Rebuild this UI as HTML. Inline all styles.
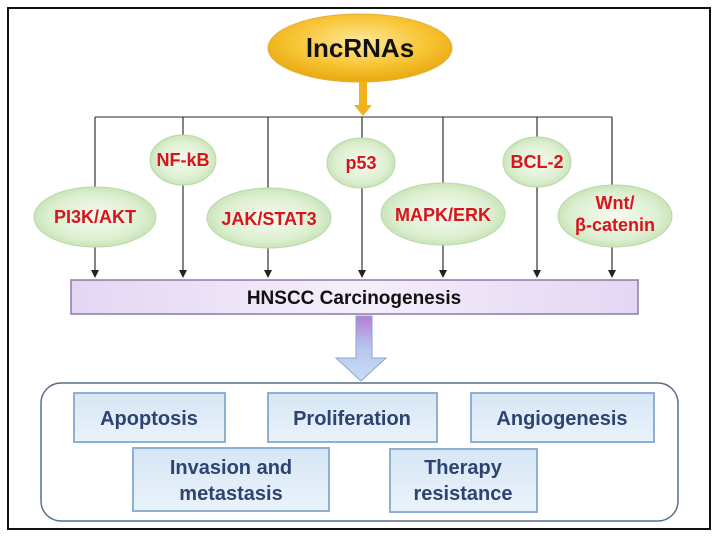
<!DOCTYPE html>
<html><head><meta charset="utf-8"><style>
html,body{margin:0;padding:0;background:#fff;}
svg{display:block;}
.r{font-family:"Liberation Sans Narrow","Liberation Sans",sans-serif;font-weight:bold;fill:#d8141c;font-size:18px;text-anchor:middle;}
.b{font-family:"Liberation Sans",sans-serif;font-weight:bold;fill:#2e4470;font-size:20px;text-anchor:middle;}
</style></head><body>
<svg width="716" height="544" viewBox="0 0 716 544" xmlns="http://www.w3.org/2000/svg">
<defs>
<radialGradient id="y" cx="50%" cy="40%" r="60%"><stop offset="0" stop-color="#fde89a"/><stop offset="0.6" stop-color="#f8c534"/><stop offset="1" stop-color="#e8a810"/></radialGradient>
<radialGradient id="g" cx="50%" cy="50%" r="55%"><stop offset="0" stop-color="#f6fbf0"/><stop offset="0.7" stop-color="#dcefd0"/><stop offset="1" stop-color="#c2e0b0"/></radialGradient>
<linearGradient id="pb" x1="0" y1="0" x2="1" y2="0"><stop offset="0" stop-color="#e3d6f3"/><stop offset="0.5" stop-color="#f5effb"/><stop offset="1" stop-color="#e3d6f3"/></linearGradient>
<linearGradient id="ar" x1="0" y1="0" x2="0" y2="1"><stop offset="0" stop-color="#b67ed6"/><stop offset="0.5" stop-color="#b8c8ee"/><stop offset="1" stop-color="#c8dcf4"/></linearGradient>
<linearGradient id="bx" x1="0" y1="0" x2="0" y2="1"><stop offset="0" stop-color="#d6e6f5"/><stop offset="1" stop-color="#eaf3fb"/></linearGradient>
<marker id="a" markerWidth="8" markerHeight="8" refX="4" refY="7" orient="auto" markerUnits="userSpaceOnUse"><path d="M0,0 L8,0 L4,7 Z" fill="#222" transform="rotate(-90 4 4)"/></marker>
</defs>
<rect x="8" y="8" width="702" height="521" fill="#fff" stroke="#111" stroke-width="2"/>
<ellipse cx="360" cy="48" rx="92" ry="34" fill="url(#y)" stroke="#e0b040" stroke-width="1"/>
<text x="360" y="57" font-family="Liberation Sans Narrow, Liberation Sans, sans-serif" font-weight="bold" font-size="26" text-anchor="middle" fill="#111">lncRNAs</text>
<rect x="359" y="82" width="8" height="25" fill="#f0b31c"/>
<path d="M354,105 L372,105 L363,116 Z" fill="#f0b31c"/>
<g stroke="#555" stroke-width="1.2" fill="none">
<line x1="95" y1="117" x2="612" y2="117"/>
</g>
<g stroke="#333" stroke-width="1.2">
<line x1="95" y1="117" x2="95" y2="271"/><line x1="183" y1="117" x2="183" y2="271"/><line x1="268" y1="117" x2="268" y2="271"/><line x1="362" y1="117" x2="362" y2="271"/><line x1="443" y1="117" x2="443" y2="271"/><line x1="537" y1="117" x2="537" y2="271"/><line x1="612" y1="117" x2="612" y2="271"/>
</g>
<g fill="#222">
<path d="M91,270 L99,270 L95,278 Z"/><path d="M179,270 L187,270 L183,278 Z"/><path d="M264,270 L272,270 L268,278 Z"/><path d="M358,270 L366,270 L362,278 Z"/><path d="M439,270 L447,270 L443,278 Z"/><path d="M533,270 L541,270 L537,278 Z"/><path d="M608,270 L616,270 L612,278 Z"/>
</g>
<g fill="url(#g)" stroke="#b8d8a6" stroke-width="1">
<ellipse cx="183" cy="160" rx="33" ry="25"/>
<ellipse cx="361" cy="163" rx="34" ry="25"/>
<ellipse cx="537" cy="162" rx="34" ry="25"/>
<ellipse cx="95" cy="217" rx="61" ry="30"/>
<ellipse cx="269" cy="218" rx="62" ry="30"/>
<ellipse cx="443" cy="214" rx="62" ry="31"/>
<ellipse cx="615" cy="216" rx="57" ry="31"/>
</g>
<text class="r" x="183" y="166">NF-kB</text>
<text class="r" x="361" y="169">p53</text>
<text class="r" x="537" y="168">BCL-2</text>
<text class="r" x="95" y="223">PI3K/AKT</text>
<text class="r" x="269" y="225">JAK/STAT3</text>
<text class="r" x="443" y="221">MAPK/ERK</text>
<text class="r" x="615" y="209">Wnt/</text>
<text class="r" x="615" y="231">β-catenin</text>
<rect x="71" y="280" width="567" height="34" fill="url(#pb)" stroke="#8a7aa8" stroke-width="1.5"/>
<text x="354" y="304" font-family="Liberation Sans, sans-serif" font-weight="bold" font-size="19" text-anchor="middle" fill="#111">HNSCC Carcinogenesis</text>
<path d="M356,316 L372,316 L372,358 L386,358 L361,381 L336,358 L356,358 Z" fill="url(#ar)" stroke="#8aa8d0" stroke-width="1"/>
<rect x="41" y="383" width="637" height="138" rx="20" ry="20" fill="#fff" stroke="#5a6e8a" stroke-width="1.5"/>
<g fill="url(#bx)" stroke="#8fb0d0" stroke-width="2">
<rect x="74" y="393" width="151" height="49"/>
<rect x="268" y="393" width="169" height="49"/>
<rect x="471" y="393" width="183" height="49"/>
<rect x="133" y="448" width="196" height="63"/>
<rect x="390" y="449" width="147" height="63"/>
</g>
<text class="b" x="149" y="425">Apoptosis</text>
<text class="b" x="352" y="425">Proliferation</text>
<text class="b" x="562" y="425">Angiogenesis</text>
<text class="b" x="231" y="474">Invasion and</text>
<text class="b" x="231" y="500">metastasis</text>
<text class="b" x="463" y="474">Therapy</text>
<text class="b" x="463" y="500">resistance</text>
</svg>
</body></html>
